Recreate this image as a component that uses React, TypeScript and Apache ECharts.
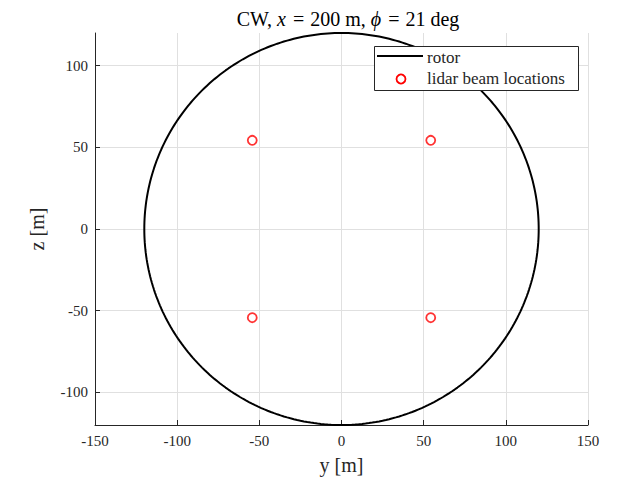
import React, { useEffect, useRef } from "react";
import * as echarts from "echarts";

const rotorRadius = 120;
const beamY = [-54.3, 54.3, -54.3, 54.3];
const beamZ = [54.3, 54.3, -54.3, -54.3];
const xTicks = [-150, -100, -50, 0, 50, 100, 150];
const yTicks = [-100, -50, 0, 50, 100];
const legendNames = ["rotor", "lidar beam locations"];

const FONT = "'Liberation Serif', 'DejaVu Serif', serif";

export default function App() {
  const ref = useRef<HTMLDivElement>(null);
  useEffect(() => {
    if (!ref.current) return;
    const chart = echarts.init(ref.current, null, { renderer: "svg" });
    const rotor: number[][] = [];
    for (let d = 0; d <= 360; d += 1) {
      const t = (d * Math.PI) / 180;
      rotor.push([rotorRadius * Math.cos(t), rotorRadius * Math.sin(t)]);
    }
    const beams = beamY.map((y, i) => [y, beamZ[i]]);
    const axisColor = "#262626";
    chart.setOption({
      animation: false,
      backgroundColor: "#ffffff",
      textStyle: { fontFamily: FONT },
      title: {
        text: "{a|CW, }{i|x}{e|=}{a|200 m, }{i|ϕ}{e|=}{a|21 deg}",
        left: 343,
        textAlign: "center",
        top: 4,
        textStyle: {
          fontWeight: "normal",
          rich: {
            a: { fontFamily: FONT, fontSize: 20, color: "#000", fontWeight: "normal" },
            i: { fontFamily: FONT, fontSize: 20, fontStyle: "italic", color: "#000", fontWeight: "normal" },
            e: { fontFamily: FONT, fontSize: 20, color: "#000", fontWeight: "normal", padding: [0, 6, 0, 7] },
          },
        },
      },
      grid: { left: 95, right: 35, top: 33, bottom: 57 },
      xAxis: {
        type: "value",
        min: xTicks[0],
        max: xTicks[xTicks.length - 1],
        interval: 50,
        name: "y [m]",
        nameLocation: "middle",
        nameGap: 30,
        nameTextStyle: { fontFamily: FONT, fontSize: 20, color: "#262626" },
        axisLine: { show: true, onZero: false, lineStyle: { color: axisColor, width: 1 } },
        axisTick: { show: true, inside: true, length: 5, lineStyle: { color: axisColor } },
        axisLabel: { fontFamily: FONT, fontSize: 15, color: "#262626", margin: 8 },
        splitLine: { show: true, lineStyle: { color: "#e0e0e0", width: 1 } },
      },
      yAxis: {
        type: "value",
        min: -rotorRadius,
        max: rotorRadius,
        name: "z [m]",
        nameLocation: "middle",
        nameRotate: 90,
        nameGap: 48,
        nameTextStyle: { fontFamily: FONT, fontSize: 20, color: "#262626" },
        axisLine: { show: true, onZero: false, lineStyle: { color: axisColor, width: 1 } },
        axisTick: {
          show: true,
          inside: true,
          length: 5,
          customValues: yTicks,
          lineStyle: { color: axisColor },
        },
        axisLabel: {
          fontFamily: FONT,
          fontSize: 15,
          color: "#262626",
          margin: 7,
          customValues: yTicks,
        },
        splitLine: { show: true, lineStyle: { color: "#e0e0e0", width: 1 } },
      },
      series: [
        {
          name: legendNames[0],
          type: "line",
          data: rotor,
          showSymbol: false,
          symbol: "none",
          clip: false,
          lineStyle: { color: "#000000", width: 2 },
          z: 3,
        },
        {
          name: legendNames[1],
          type: "scatter",
          data: beams,
          symbol: "circle",
          symbolSize: 9,
          itemStyle: { color: "rgba(0,0,0,0)", borderColor: "#ff0000", borderWidth: 1.8 },
          z: 4,
        },
      ],
      graphic: [
        {
          type: "rect",
          shape: { x: 374.5, y: 46.5, width: 204, height: 44 },
          style: { fill: "#ffffff", stroke: "#262626", lineWidth: 1 },
          z: 100,
        },
        {
          type: "line",
          shape: { x1: 377, y1: 56, x2: 423, y2: 56 },
          style: { stroke: "#000000", lineWidth: 2 },
          z: 101,
        },
        {
          type: "text",
          x: 427,
          y: 57,
          style: {
            text: legendNames[0],
            fontFamily: FONT,
            fontSize: 17,
            fill: "#262626",
            verticalAlign: "middle",
            align: "left",
          },
          z: 101,
        },
        {
          type: "circle",
          shape: { cx: 401, cy: 79, r: 4.5 },
          style: { fill: "none", stroke: "#ff0000", lineWidth: 1.8 },
          z: 101,
        },
        {
          type: "text",
          x: 427,
          y: 78,
          style: {
            text: legendNames[1],
            fontFamily: FONT,
            fontSize: 17,
            fill: "#262626",
            verticalAlign: "middle",
            align: "left",
          },
          z: 101,
        },
      ],
    });
    return () => chart.dispose();
  }, []);
  return (
    <div
      ref={ref}
      style={{ position: "absolute", left: 0, top: 0, width: 623, height: 482 }}
    />
  );
}
